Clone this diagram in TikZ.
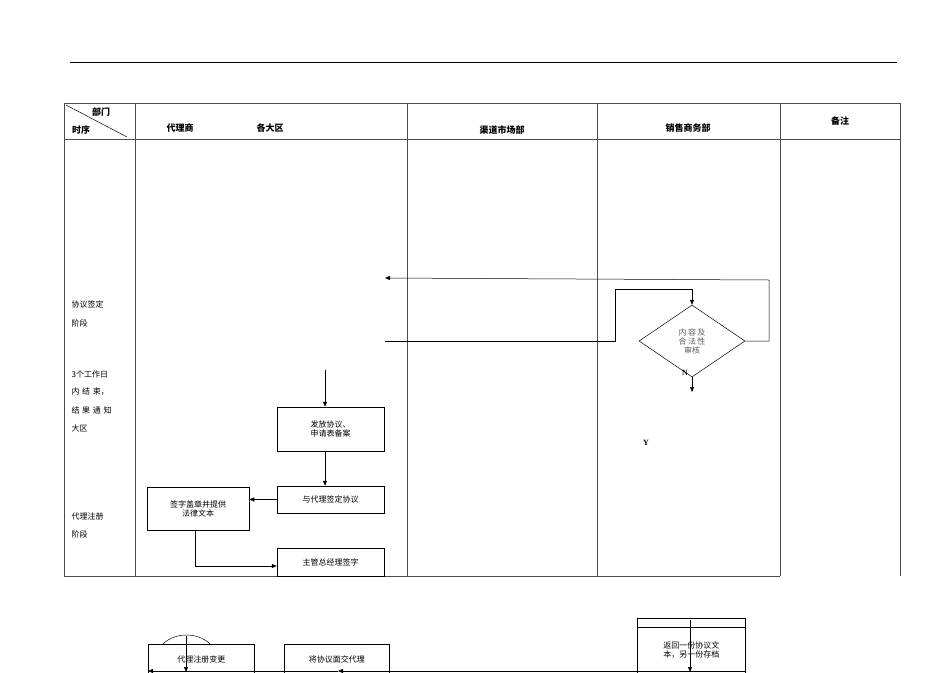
\documentclass[tikz,border=0pt]{standalone}
\usepackage{fontspec}
\setmainfont{Liberation Serif}
\newfontfamily\cjk{Noto Sans CJK SC}
\usetikzlibrary{shapes.geometric, arrows.meta}

\tikzset{
  step box/.style={draw, font=\cjk\fontsize{8}{9}\selectfont, align=center, inner sep=1pt},
  flow/.style={-{Triangle[length=5pt,width=4pt]}},
  head/.style={font=\cjk\bfseries\fontsize{9}{10}\selectfont},
  side/.style={font=\cjk\fontsize{8}{9}\selectfont, anchor=west}
}

\begin{document}
\begin{tikzpicture}[x=1pt, y=-1pt, line width=0.5pt]
  \useasboundingbox (0,0) rectangle (950,672);
  % rule at top
  \draw (70,62) -- (897,62);

  % table frame
  \draw[gray!60!black] (64,103) -- (900,103);
  \draw[gray!60!black] (64,139) -- (900,139);
  \draw[gray!60!black] (64,103) -- (64,576) -- (780,576);
  \foreach \x in {135,407,597,780,900}
    \draw[gray!60!black] (\x,103) -- (\x,576);
  \draw (66,105) -- (127,137);

  % header
  \node[head] (hdept) at (101,112) {部门};
  \node[head] (htime) at (81,130) {时序};
  \node[head] (hagent) at (180,128) {代理商};
  \node[head] (hregion) at (270,128) {各大区};
  \node[head] (hchannel) at (502,130) {渠道市场部};
  \node[head] (hsales) at (688,128) {销售商务部};
  \node[head] (hnote) at (840,121) {备注};

  % stage notes
  \node[side] (s1) at (68,304) {协议签定};
  \node[side] (s2) at (68,323) {阶段};
  \node[side] (s3) at (68,374) {3个工作日};
  \node[side] (s4) at (68,392) {内\,\,结\,\,束，};
  \node[side] (s5) at (68,410) {结\,\,果\,\,通\,\,知};
  \node[side] (s6) at (68,428) {大区};
  \node[side] (s7) at (68,516) {代理注册};
  \node[side] (s8) at (68,534) {阶段};

  % review diamond
  \node[diamond, draw, aspect=1.5, minimum width=106pt, minimum height=72pt, inner sep=0pt,
        font=\cjk\fontsize{8}{9}\selectfont, align=center, text=gray!70!black] (check) at (692,341)
        {内\,容\,及\\合\,法\,性\\审核};
  \coordinate (ret) at (385,278);
  \coordinate (feed) at (385,341);
  \draw[flow] (check.east) -- (769,341) -- (769,280) -- (ret);
  \draw[flow] (feed) -- (615,341) -- (615,289) -- (692,289) -- (check.north);
  \coordinate (nend) at (692,392);
  \draw[flow] (check.south) -- (nend);
  \node[font=\bfseries\fontsize{8}{9}\selectfont] (nlab) at (685,373) {N};
  \node[font=\bfseries\fontsize{8}{9}\selectfont] (ylab) at (646,443) {Y};

  % registration boxes
  \coordinate (start) at (325,370);
  \node[step box, minimum width=107pt, minimum height=44pt] (issue) at (330.5,429) {发放协议、\\申请表备案};
  \node[step box, minimum width=107pt, minimum height=27pt] (sign) at (330.5,499.5) {与代理签定协议};
  \node[step box, minimum width=102pt, minimum height=43pt, anchor=north] (stamp) at (198,487) {签字盖章并提供\\法律文本};
  \node[step box, minimum width=107pt, minimum height=28pt] (boss) at (330.5,562) {主管总经理签字};
  \draw[flow] (start) -- (issue.north -| start);
  \draw[flow] (issue.south -| start) -- (sign.north -| start);
  \draw[flow] (sign.west) -- (stamp.east |- sign.west);
  \draw[flow] (195,530) -- (195,566) -- (boss.west |- 0,566);

  % bottom part
  \node[step box, minimum width=106pt, minimum height=30pt, anchor=north west] (change) at (148,644) {代理注册变更};
  \node[step box, minimum width=105pt, minimum height=30pt, anchor=north west] (hand) at (284,644) {将协议面交代理};
  \node[step box, minimum width=108pt, minimum height=46pt, anchor=north west] (back) at (637,627) {返回一份协议文\\本，另一份存档};
  \draw (637,627) -- (637,618) -- (745,618) -- (745,627);
  \draw (163,644) .. controls (175,632) and (198,632) .. (210,644);
  \draw[flow] (186,636) -- (186,672);
  \draw[flow] (690,620) -- (690,672);
  \coordinate (lineend) at (148,671);
  \draw[flow] (745,671) -- (338,671);
  \draw[flow] (338,671) -- (230,671) -- (lineend);
\end{tikzpicture}
\end{document}
